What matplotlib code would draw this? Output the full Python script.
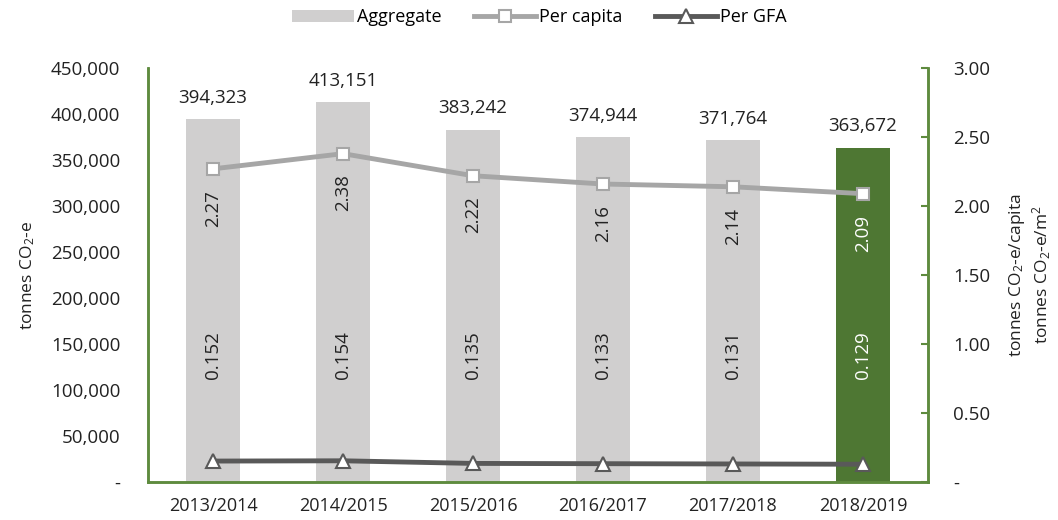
import matplotlib
matplotlib.use("Agg")
import matplotlib.pyplot as plt
from matplotlib.ticker import FuncFormatter

plt.rcParams['font.family'] = ['Open Sans', 'DejaVu Sans']
plt.rcParams['mathtext.fontset'] = 'custom'
plt.rcParams['mathtext.rm'] = 'Open Sans'
plt.rcParams['mathtext.it'] = 'Open Sans:italic'
plt.rcParams['mathtext.default'] = 'regular'

years = ['2013/2014', '2014/2015', '2015/2016', '2016/2017', '2017/2018', '2018/2019']
aggregate = [394323, 413151, 383242, 374944, 371764, 363672]
per_capita = [2.27, 2.38, 2.22, 2.16, 2.14, 2.09]
per_gfa = [0.152, 0.154, 0.135, 0.133, 0.131, 0.129]

grey_bar = '#D0CFCF'
green = '#4E7733'
spine_green = '#5E8B3E'
light_line = '#A6A6A6'
dark_line = '#595959'
txt = '#222222'

fig = plt.figure(figsize=(10.58, 5.2), dpi=100)
ax = fig.add_axes([0.14, 0.073, 0.737, 0.796])
ax2 = ax.twinx()

x = list(range(len(years)))
colors = [grey_bar] * (len(years) - 1) + [green]
ax.bar(x, aggregate, width=0.42, color=colors, zorder=1, label='Aggregate')
ax.set_ylim(0, 450000)
ax.set_xlim(-0.5, len(years) - 0.5)
ax.set_yticks(range(0, 450001, 50000))
ax.yaxis.set_major_formatter(FuncFormatter(lambda v, p: '-' if v == 0 else f'{int(v):,}'))
ax.set_xticks(x)
ax.set_xticklabels(years)
ax.tick_params(axis='y', length=0, labelsize=13.5, colors=txt, pad=20)
ax.tick_params(axis='x', length=0, labelsize=13, colors=txt, pad=11)
ax.set_ylabel('tonnes CO$_2$-e', fontsize=12.5, color=txt, labelpad=10)

for xi, v in zip(x, aggregate):
    ax.annotate(f'{v:,}', (xi, v), xytext=(0, 9), textcoords='offset points',
                ha='center', va='bottom', fontsize=13.5, color=txt)

ax2.plot(x, per_capita, color=light_line, lw=3.5, marker='s', ms=8,
         mfc='white', mec=light_line, mew=1.5, zorder=3, label='Per capita')
ax2.plot(x, per_gfa, color=dark_line, lw=3.5, marker='^', ms=10,
         mfc='white', mec=dark_line, mew=1.5, zorder=3, label='Per GFA')
ax2.set_ylim(0, 3)
ax2.set_yticks([0, 0.5, 1, 1.5, 2, 2.5, 3])
ax2.yaxis.set_major_formatter(FuncFormatter(lambda v, p: '-' if v == 0 else f'{v:.2f}'))
ax2.tick_params(axis='y', direction='in', length=5, color=spine_green, width=1.5,
                labelsize=13.5, labelcolor=txt, pad=18)
ax2.set_ylabel('tonnes CO$_2$-e/capita\ntonnes CO$_2$-e/m$^2$', fontsize=12.5,
               color=txt, labelpad=12, rotation=90)

for i, (xi, v) in enumerate(zip(x, per_capita)):
    c = 'white' if i == len(x) - 1 else txt
    ax2.annotate(f'{v:.2f}', (xi, v), xytext=(0, -15), textcoords='offset points',
                 ha='center', va='top', rotation=90, fontsize=13.5, color=c)
for i, (xi, v) in enumerate(zip(x, per_gfa)):
    c = 'white' if i == len(x) - 1 else txt
    ax2.text(xi, 0.92, f'{v:.3f}', ha='center', va='center', rotation=90,
             fontsize=13.5, color=c)

for a in (ax, ax2):
    a.spines['top'].set_visible(False)
    for s in ('left', 'right', 'bottom'):
        a.spines[s].set_color(spine_green)
        a.spines[s].set_linewidth(1.8)

ax.set_zorder(0)
ax2.set_zorder(1)
ax.patch.set_visible(False)

h1, l1 = ax.get_legend_handles_labels()
h2, l2 = ax2.get_legend_handles_labels()
fig.legend(h1 + h2, l1 + l2, loc='upper center', bbox_to_anchor=(0.51, 1.015),
           ncol=3, frameon=False, fontsize=13, handlelength=3.4,
           handletextpad=0.2, columnspacing=1.8)

fig.savefig('out.png', dpi=100)
